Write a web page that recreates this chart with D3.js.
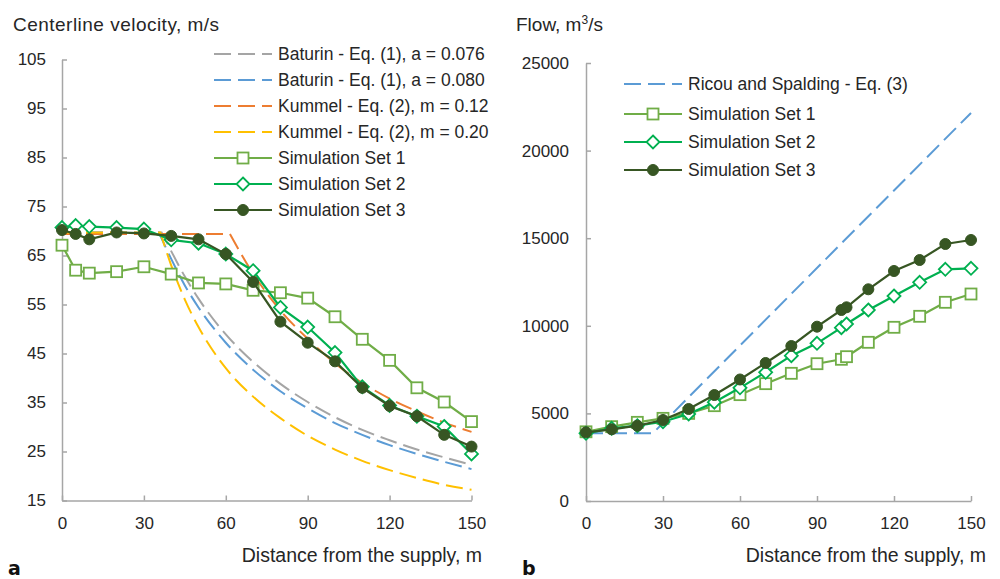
<!DOCTYPE html>
<html>
<head>
<meta charset="utf-8">
<script src="https://cdn.jsdelivr.net/npm/d3@7"></script>
<style>
  body { margin: 0; background: #fff; }
  text { font-family: "Liberation Sans", Arial, sans-serif; }
</style>
</head>
<body>
<svg id="chart" width="1000" height="579"></svg>
<script>
// ---- data: panel a (centerline velocity, m/s) ----
var simX = [0, 5, 10, 20, 30, 40, 50, 60, 70, 80, 90, 100, 110, 120, 130, 140, 150];
var velSet1 = [67.1, 62.0, 61.4, 61.7, 62.7, 61.2, 59.4, 59.2, 57.9, 57.4, 56.3, 52.5, 47.9, 43.6, 38.0, 35.1, 31.1];
var velSet2 = [70.7, 71.1, 70.9, 70.7, 70.4, 68.2, 67.5, 65.3, 61.9, 54.4, 50.4, 45.2, 38.2, 34.4, 32.2, 30.1, 24.5];
var velSet3 = [70.2, 69.4, 68.3, 69.7, 69.5, 69.0, 68.3, 65.3, 59.6, 51.5, 47.2, 43.4, 38.0, 34.3, 32.2, 28.4, 26.0];

var baturin076X = [0, 36.5, 40, 45, 50, 60, 70, 80, 90, 100, 110, 120, 130, 140, 150];
var baturin076 = [69.7, 69.7, 65.9, 60.7, 56.2, 48.9, 43.3, 38.8, 35.1, 32.0, 29.4, 27.3, 25.4, 23.8, 22.3];
var baturin080X = [0, 35.5, 40, 45, 50, 60, 70, 80, 90, 100, 110, 120, 130, 140, 150];
var baturin080 = [69.7, 69.7, 64.3, 58.9, 54.4, 47.2, 41.7, 37.3, 33.8, 30.8, 28.4, 26.3, 24.5, 22.9, 21.4];
var kummel012X = [0, 61.5, 70, 80, 90, 100, 110, 120, 130, 140, 150];
var kummel012 = [69.4, 69.4, 61.3, 53.8, 48.0, 43.0, 39.0, 35.8, 33.2, 30.9, 29.0];
var kummel020X = [0, 36, 40, 45, 50, 60, 70, 80, 90, 100, 110, 120, 130, 140, 150];
var kummel020 = [69.7, 69.7, 63.0, 56.0, 50.4, 42.0, 36.2, 31.8, 28.2, 25.4, 23.1, 21.2, 19.6, 18.2, 17.2];

// ---- data: panel b (flow, m3/s) ----
var flowX = [0, 10, 20, 30, 40, 50, 60, 70, 80, 90, 99.5, 101.5, 110, 120, 130, 140, 150];
var flowSet1 = [3950, 4243, 4490, 4718, 5000, 5440, 6070, 6697, 7288, 7837, 8088, 8237, 9058, 9914, 10542, 11341, 11815];
var flowSet2 = [3863, 4148, 4298, 4527, 4966, 5640, 6460, 7346, 8295, 9000, 9893, 10103, 10902, 11701, 12483, 13225, 13282];
var flowSet3 = [3921, 4092, 4298, 4623, 5251, 6050, 6935, 7877, 8847, 9950, 10902, 11056, 12084, 13128, 13756, 14669, 14897];
var ricouX = [0, 26, 150];
var ricou = [3860, 3860, 22150];

var xTicks = [0, 30, 60, 90, 120, 150];
var velTicks = [15, 25, 35, 45, 55, 65, 75, 85, 95, 105];
var flowTicks = [0, 5000, 10000, 15000, 20000, 25000];

var C = {
  gray: "#A5A5A5", blue: "#5B9BD5", orange: "#ED7D31", yellow: "#FFC000",
  s1: "#70AD47", s2: "#00B050", s3: "#375623", axis: "#A6A6A6", text: "#262626"
};
var DASH = "17,7";

var svg = d3.select("#chart");

function zip(xs, ys) { return xs.map(function (x, i) { return [x, ys[i]]; }); }

function drawAxes(g, x, y, yTicks, yPad) {
  var xa = g.append("g").attr("transform", "translate(0," + y.range()[0] + ")")
    .call(d3.axisBottom(x).tickValues(xTicks).tickSize(-5).tickSizeOuter(0).tickPadding(16));
  var ya = g.append("g").attr("transform", "translate(" + x.range()[0] + ",0)")
    .call(d3.axisLeft(y).tickValues(yTicks).tickSize(-5).tickSizeOuter(0).tickPadding(yPad)
      .tickFormat(d3.format("d")));
  [xa, ya].forEach(function (a) {
    a.select(".domain").attr("stroke", C.axis).attr("stroke-width", 1.5);
    a.selectAll(".tick line").attr("stroke", C.axis).attr("stroke-width", 1.5);
    a.selectAll(".tick text").attr("fill", C.text).style("font-size", "17px")
      .style("font-family", "'Liberation Sans', Arial, sans-serif");
  });
}

// flat core part drawn straight, decay part smoothed
function dashed(g, x, y, pts, color, knee) {
  var line = d3.line().x(function (d) { return x(d[0]); }).y(function (d) { return y(d[1]); });
  var d;
  if (knee) {
    var rest = line.curve(d3.curveMonotoneX)(pts.slice(knee));
    d = "M" + x(pts[0][0]) + "," + y(pts[0][1]) + "L" + rest.slice(1);
  } else {
    d = line(pts);
  }
  g.append("path").attr("d", d)
    .attr("fill", "none").attr("stroke", color).attr("stroke-width", 2)
    .attr("stroke-dasharray", DASH);
}

function marker(sel, kind, color) {
  if (kind === "square") {
    sel.append("rect").attr("x", -5.5).attr("y", -5.5).attr("width", 11).attr("height", 11)
      .attr("fill", "#fff").attr("stroke", color).attr("stroke-width", 1.8);
  } else if (kind === "diamond") {
    sel.append("path").attr("d", "M0,-6.5L6.5,0L0,6.5L-6.5,0Z")
      .attr("fill", "#fff").attr("stroke", color).attr("stroke-width", 1.8);
  } else {
    sel.append("circle").attr("r", 5.5).attr("fill", color).attr("stroke", color);
  }
}

function series(g, x, y, pts, color, kind) {
  g.append("path").datum(pts)
    .attr("fill", "none").attr("stroke", color).attr("stroke-width", 2.2)
    .attr("d", d3.line().x(function (d) { return x(d[0]); }).y(function (d) { return y(d[1]); }));
  g.selectAll(null).data(pts).enter().append("g")
    .attr("transform", function (d) { return "translate(" + x(d[0]) + "," + y(d[1]) + ")"; })
    .each(function () { marker(d3.select(this), kind, color); });
}

function legend(g, items, x0, x1, tx) {
  items.forEach(function (it) {
    var row = g.append("g").attr("transform", "translate(0," + it.y + ")");
    if (it.kind === "dash") {
      row.append("line").attr("x1", x0).attr("x2", x1).attr("stroke", it.color)
        .attr("stroke-width", 2).attr("stroke-dasharray", DASH);
    } else {
      row.append("line").attr("x1", x0).attr("x2", x1).attr("stroke", it.color).attr("stroke-width", 2.2);
      var m = row.append("g").attr("transform", "translate(" + (x0 + x1) / 2 + ",0)");
      marker(m, it.kind, it.color);
    }
    row.append("text").attr("x", tx).attr("y", 6).attr("fill", C.text)
      .style("font-size", "17.5px").text(it.label);
  });
}

// ---- panel a ----
var xL = d3.scaleLinear().domain([0, 150]).range([62, 471.5]);
var yL = d3.scaleLinear().domain([15, 105]).range([500.5, 59.5]);
var gA = svg.append("g");
drawAxes(gA, xL, yL, velTicks, 16);

dashed(gA, xL, yL, zip(baturin076X, baturin076), C.gray, 1);
dashed(gA, xL, yL, zip(baturin080X, baturin080), C.blue, 1);
dashed(gA, xL, yL, zip(kummel012X, kummel012), C.orange, 1);
dashed(gA, xL, yL, zip(kummel020X, kummel020), C.yellow, 1);
series(gA, xL, yL, zip(simX, velSet1), C.s1, "square");
series(gA, xL, yL, zip(simX, velSet2), C.s2, "diamond");
series(gA, xL, yL, zip(simX, velSet3), C.s3, "circle");

legend(gA, [
  { y: 54, kind: "dash", color: C.gray, label: "Baturin - Eq. (1), a = 0.076" },
  { y: 80, kind: "dash", color: C.blue, label: "Baturin - Eq. (1), a = 0.080" },
  { y: 106, kind: "dash", color: C.orange, label: "Kummel - Eq. (2), m = 0.12" },
  { y: 132, kind: "dash", color: C.yellow, label: "Kummel - Eq. (2), m = 0.20" },
  { y: 158, kind: "square", color: C.s1, label: "Simulation Set 1" },
  { y: 184, kind: "diamond", color: C.s2, label: "Simulation Set 2" },
  { y: 210, kind: "circle", color: C.s3, label: "Simulation Set 3" }
], 214, 272, 278);

gA.append("text").attr("x", 13).attr("y", 31).attr("fill", C.text)
  .style("font-size", "19px").attr("textLength", 206).text("Centerline velocity, m/s");
gA.append("text").attr("x", 482).attr("y", 561.5).attr("text-anchor", "end").attr("fill", C.text)
  .style("font-size", "19.5px").text("Distance from the supply, m");
gA.append("text").attr("x", 8).attr("y", 575).attr("fill", "#111")
  .style("font-size", "19px").style("font-weight", "bold")
  .style("font-family", "'DejaVu Sans', sans-serif").text("a");

// ---- panel b ----
var xR = d3.scaleLinear().domain([0, 150]).range([586, 971]);
var yR = d3.scaleLinear().domain([0, 25000]).range([501, 63]);
var gB = svg.append("g");
drawAxes(gB, xR, yR, flowTicks, 17);

dashed(gB, xR, yR, zip(ricouX, ricou), C.blue, 0);
series(gB, xR, yR, zip(flowX, flowSet1), C.s1, "square");
series(gB, xR, yR, zip(flowX, flowSet2), C.s2, "diamond");
series(gB, xR, yR, zip(flowX, flowSet3), C.s3, "circle");

legend(gB, [
  { y: 84, kind: "dash", color: C.blue, label: "Ricou and Spalding - Eq. (3)" },
  { y: 114, kind: "square", color: C.s1, label: "Simulation Set 1" },
  { y: 142, kind: "diamond", color: C.s2, label: "Simulation Set 2" },
  { y: 170, kind: "circle", color: C.s3, label: "Simulation Set 3" }
], 624, 682, 688);

var fl = gB.append("text").attr("x", 516).attr("y", 31).attr("fill", C.text).style("font-size", "19px");
fl.append("tspan").text("Flow, m");
fl.append("tspan").attr("dy", -7).style("font-size", "12px").text("3");
fl.append("tspan").attr("dy", 7).text("/s");
gB.append("text").attr("x", 986).attr("y", 561.5).attr("text-anchor", "end").attr("fill", C.text)
  .style("font-size", "19.5px").text("Distance from the supply, m");
gB.append("text").attr("x", 522).attr("y", 575).attr("fill", "#111")
  .style("font-size", "19px").style("font-weight", "bold")
  .style("font-family", "'DejaVu Sans', sans-serif").text("b");
</script>
</body>
</html>
